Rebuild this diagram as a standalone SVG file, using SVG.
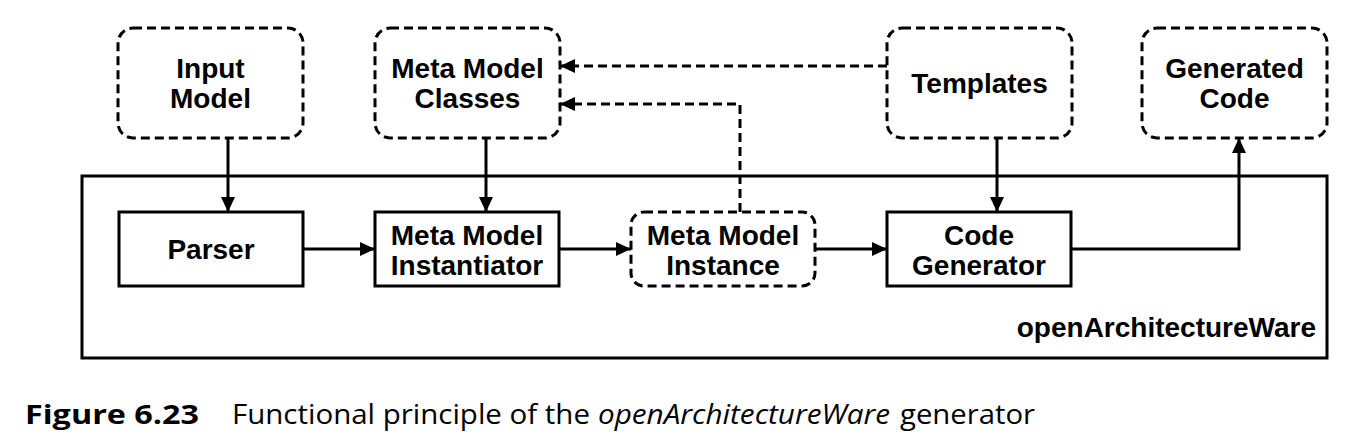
<svg xmlns="http://www.w3.org/2000/svg" width="1364" height="446" viewBox="0 0 1364 446">
<style>
.box{fill:#fff;stroke:#000;stroke-width:3}
.dash{stroke-dasharray:9 5}
.lbl{font-family:"Liberation Sans",Arial,sans-serif;font-weight:bold;font-size:28px;fill:#000;text-anchor:middle}
.conn{fill:none;stroke:#000;stroke-width:3}
.cap{font-family:"Open Sans",sans-serif;font-size:27px;fill:#000}
</style>
<defs>
<marker id="ah" markerUnits="userSpaceOnUse" markerWidth="16" markerHeight="16" refX="15" refY="8" orient="auto">
<path d="M0,1 L15,8 L0,15 z" fill="#000"/>
</marker>
</defs>
<rect width="1364" height="446" fill="#fff"/>
<g id="frame">
<rect class="box" x="82" y="176" width="1245" height="182"/>
<text class="lbl" x="1316" y="337" style="text-anchor:end">openArchitectureWare</text>
</g>
<g id="input-model">
<rect class="box dash" x="118" y="28" width="185" height="110" rx="15"/>
<text class="lbl" x="210.5" y="78">Input</text>
<text class="lbl" x="210.5" y="108">Model</text>
</g>
<g id="meta-model-classes">
<rect class="box dash" x="375" y="28" width="185" height="110" rx="15"/>
<text class="lbl" x="467.5" y="78">Meta Model</text>
<text class="lbl" x="467.5" y="108">Classes</text>
</g>
<g id="templates">
<rect class="box dash" x="887" y="28" width="185" height="110" rx="15"/>
<text class="lbl" x="979.5" y="93">Templates</text>
</g>
<g id="generated-code">
<rect class="box dash" x="1142" y="28" width="185" height="110" rx="15"/>
<text class="lbl" x="1234.5" y="78">Generated</text>
<text class="lbl" x="1234.5" y="108">Code</text>
</g>
<g id="parser">
<rect class="box" x="119" y="212" width="184" height="74"/>
<text class="lbl" x="211" y="259">Parser</text>
</g>
<g id="instantiator">
<rect class="box" x="375" y="212" width="184" height="74"/>
<text class="lbl" x="467" y="245">Meta Model</text>
<text class="lbl" x="467" y="275">Instantiator</text>
</g>
<g id="instance">
<rect class="box dash" x="631" y="212" width="184" height="74" rx="13"/>
<text class="lbl" x="723" y="245">Meta Model</text>
<text class="lbl" x="723" y="275">Instance</text>
</g>
<g id="code-generator">
<rect class="box" x="887" y="212" width="184" height="74"/>
<text class="lbl" x="979" y="245">Code</text>
<text class="lbl" x="979" y="275">Generator</text>
</g>
<g id="connectors">
<path class="conn" d="M228,138 V212" marker-end="url(#ah)"/>
<path class="conn" d="M486,138 V212" marker-end="url(#ah)"/>
<path class="conn" d="M997,138 V212" marker-end="url(#ah)"/>
<path class="conn" d="M303,249 H375" marker-end="url(#ah)"/>
<path class="conn" d="M559,249 H631" marker-end="url(#ah)"/>
<path class="conn" d="M815,249 H887" marker-end="url(#ah)"/>
<path class="conn" d="M1071,249 H1239 V138" marker-end="url(#ah)"/>
<path class="conn dash" d="M887,66 H560" marker-end="url(#ah)"/>
<path class="conn dash" d="M740,212 V104 H560" marker-end="url(#ah)"/>
</g>
<g id="caption">
<text class="cap" x="25" y="424" font-weight="bold" textLength="174" lengthAdjust="spacingAndGlyphs">Figure 6.23</text>
<text class="cap" x="232" y="424" textLength="358" lengthAdjust="spacingAndGlyphs">Functional principle of the</text>
<text class="cap" x="598" y="424" font-style="italic" textLength="292" lengthAdjust="spacingAndGlyphs">openArchitectureWare</text>
<text class="cap" x="900" y="424" textLength="135" lengthAdjust="spacingAndGlyphs">generator</text>
</g>
</svg>
